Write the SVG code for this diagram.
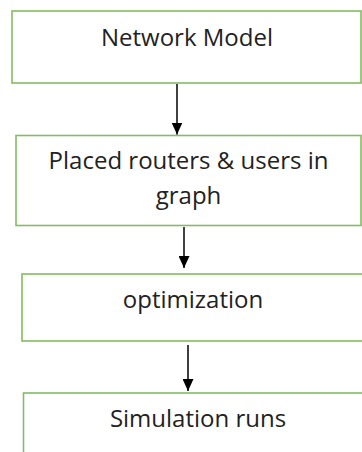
<svg xmlns="http://www.w3.org/2000/svg" width="362" height="452" viewBox="0 0 362 452">
<style>
.box{fill:#fff;stroke:#84BC61;stroke-width:1.6}
.t{font-family:"Open Sans","DejaVu Sans",sans-serif;font-size:24px;fill:#222;text-anchor:middle}
.c{stroke:#000;stroke-width:1.5;fill:none}
</style>
<defs>
<marker id="a" markerWidth="12" markerHeight="11" refX="12" refY="5.5" orient="auto" markerUnits="userSpaceOnUse" viewBox="0 0 12 11">
<path d="M0,0 L12,5.5 L0,11 Z" fill="#000"/>
</marker>
</defs>
<rect width="362" height="452" fill="#fff"/>
<g id="node1"><rect class="box" x="12" y="11" width="349" height="72"/><text class="t" x="187" y="46">Network Model</text></g>
<g id="node2"><rect class="box" x="16" y="135.5" width="345" height="90"/><text class="t" x="188.5" y="169">Placed routers &amp; users in</text><text class="t" x="188.5" y="204">graph</text></g>
<g id="node3"><rect class="box" x="22" y="274" width="350" height="67"/><text class="t" x="193" y="308">optimization</text></g>
<g id="node4"><rect class="box" x="23.5" y="393" width="350" height="80"/><text class="t" x="198" y="427">Simulation runs</text></g>
<g id="connectors">
<line class="c" x1="177" y1="84" x2="177" y2="134.5" marker-end="url(#a)"/>
<line class="c" x1="184" y1="227" x2="184" y2="268" marker-end="url(#a)"/>
<line class="c" x1="188" y1="345" x2="188" y2="391" marker-end="url(#a)"/>
</g>
</svg>
